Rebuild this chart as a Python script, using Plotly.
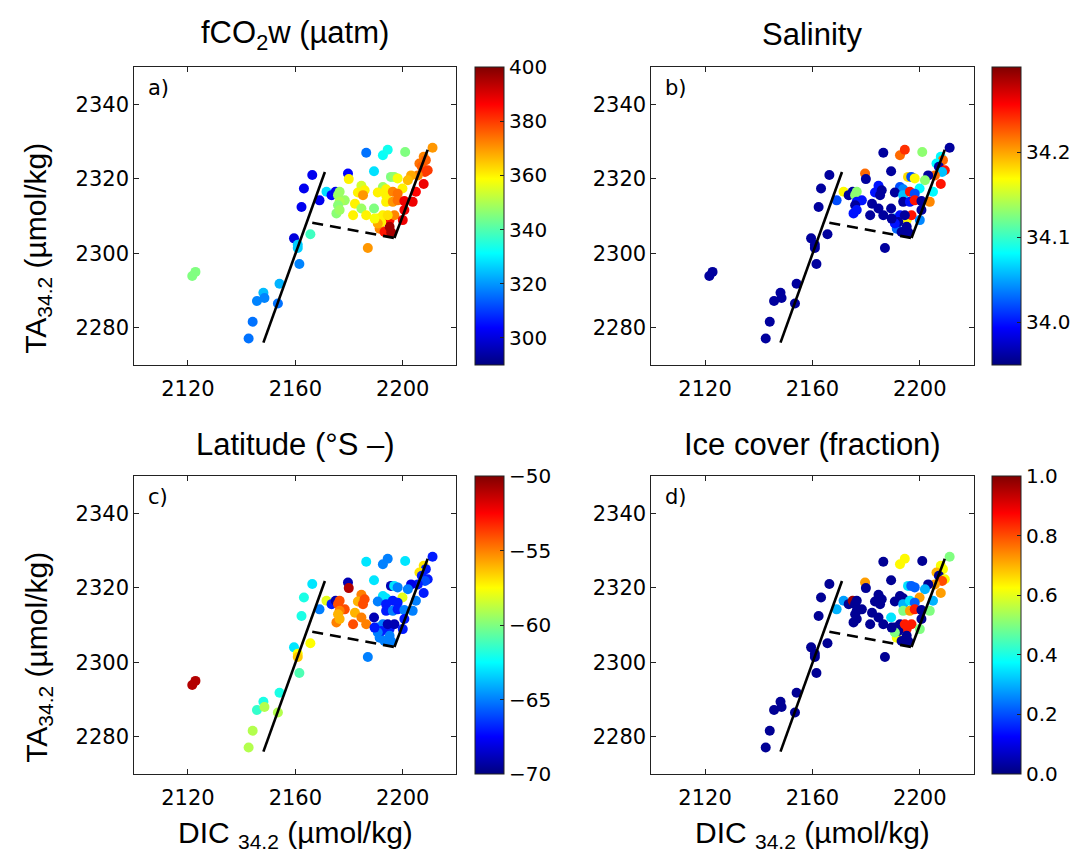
import plotly.graph_objects as go

# ---------------- data ----------------
dic = [2121.6, 2122.8, 2142.6, 2144.1, 2145.7, 2148.1, 2148.5, 2153.5, 2154.1, 2159.5,
       2160.9, 2160.9, 2161.5, 2165.6, 2162.3, 2163.2, 2166.3, 2169.0, 2171.6, 2173.5,
       2175.0,
       2179.6, 2179.9, 2186.4, 2189.3, 2192.6, 2194.4, 2200.9, 2211.1, 2207.8, 2208.6,
       2206.2, 2207.1, 2209.3, 2208.3, 2205.6, 2203.1, 2201.9, 2207.8, 2204.9, 2195.6,
       2196.8, 2198.1, 2199.9, 2192.6, 2193.8, 2184.6, 2183.3, 2185.8, 2185.2, 2190.7,
       2193.8, 2196.3, 2198.1, 2176.5, 2175.9, 2178.4, 2176.5, 2182.2, 2189.3, 2193.8,
       2196.3, 2198.1, 2200.6, 2203.7, 2200.6, 2175.9, 2175.3, 2176.5, 2184.6, 2181.5,
       2186.4, 2190.7, 2192.6, 2195.1, 2196.9, 2200.0,
       2191.4, 2193.2, 2195.1, 2195.7, 2192.0, 2190.7, 2187.0, 2194.4, 2189.5]
ta = [2293.9, 2295.0, 2277.1, 2281.6, 2287.2, 2289.4, 2288.0, 2286.5, 2291.8, 2304.0,
      2302.3, 2301.4, 2297.1, 2305.1, 2312.4, 2317.4, 2321.0, 2314.2, 2316.5, 2315.6,
      2316.5,
      2321.4, 2319.9, 2327.0, 2322.0, 2326.3, 2327.8, 2327.2, 2328.3, 2325.9, 2325.0,
      2324.1, 2323.2, 2322.3, 2321.8, 2320.9, 2320.9, 2319.6, 2318.6, 2316.5, 2320.5,
      2320.5, 2320.1, 2317.4, 2317.8, 2317.2, 2318.1, 2316.3, 2316.9, 2315.6, 2316.3,
      2315.6, 2316.5, 2316.0, 2316.5, 2315.6, 2314.2, 2313.8, 2313.3, 2312.0, 2313.8,
      2313.8, 2314.2, 2314.0, 2313.8, 2311.6, 2312.9, 2310.7, 2311.6, 2312.0, 2310.2,
      2310.2, 2309.3, 2310.2, 2308.9, 2310.2, 2308.9,
      2306.6, 2305.7, 2307.1, 2305.6, 2308.4, 2308.0, 2301.4, 2310.2, 2309.3]
fco2 = [345, 345, 316, 316, 318, 324, 318, 316, 323, 300,
        326, 326, 318, 338, 302, 302, 302, 302, 328, 304,
        302,
        304, 360, 316, 328, 332, 333, 345, 370, 372, 376,
        374, 376, 380, 380, 372, 368, 366, 388, 386, 345,
        347, 358, 360, 348, 360, 354, 360, 360, 370, 360,
        360, 372, 374, 348, 348, 348, 350, 360, 345, 360,
        370, 374, 388, 388, 388, 346, 346, 348, 348, 360,
        360, 360, 360, 385, 372, 388,
        372, 384, 396, 396, 360, 368, 370, 362, 358]
salinity = [33.96, 33.96, 33.96, 33.96, 33.96, 33.96, 33.96, 33.96, 33.96, 33.96,
            33.96, 33.96, 33.96, 33.96, 33.96, 33.96, 33.96, 34.02, 34.17, 33.96,
            33.96,
            34.22, 33.96, 33.96, 33.96, 34.22, 34.24, 34.13, 33.96, 34.08, 34.22,
            34.08, 33.96, 34.25, 34.06, 34.22, 33.96, 34.13, 34.25, 34.08, 34.18,
            34.02, 34.17, 34.08, 34.02, 34.04, 34.00, 34.00, 33.96, 33.96, 33.96,
            34.06, 34.25, 34.02, 34.13, 34.13, 34.00, 34.00, 33.96, 33.96, 33.96,
            34.00, 34.25, 33.96, 34.21, 33.96, 33.96, 34.00, 34.00, 33.96, 33.96,
            33.96, 34.06, 34.00, 34.17, 34.25, 34.04,
            34.03, 33.96, 33.96, 33.96, 33.96, 34.00, 33.96, 33.96, 33.96]
latitude = [-51, -51, -59, -59, -61.5, -62, -59, -59, -62, -63,
            -57.5, -56.5, -61, -57.5, -62, -62, -63, -65, -58, -67,
            -69,
            -69, -51, -63, -63, -65, -65, -63, -67, -57, -67,
            -57, -67, -67, -66, -67, -68, -65, -67, -65, -69,
            -63, -65, -58, -63, -63, -55, -56, -54, -54, -65,
            -67, -67, -67, -54, -54, -54, -55, -56, -69, -67,
            -65, -67, -65, -65, -67, -56, -55, -56, -55, -54,
            -55, -65, -65, -67, -69, -67,
            -65, -65, -65, -65, -67, -65, -65, -69, -67]
ice = [None, None, 0.02, 0.02, 0.02, 0.02, 0.02, 0.02, 0.02, 0.02,
       0.02, 0.02, 0.02, 0.02, 0.02, 0.02, 0.02, 0.30, 0.28, 0.02,
       0.97,
       0.72, 0.02, 0.02, 0.02, 0.63, 0.63, 0.02, 0.50, 0.62, 0.62,
       0.70, 0.02, 0.62, 0.80, 0.72, 0.02, 0.30, 0.72, 0.30, 0.35,
       0.22, 0.22, 0.72, 0.02, 0.02, 0.02, 0.02, 0.02, 0.02, 0.02,
       0.30, 0.35, 0.22, 0.02, 0.02, 0.02, 0.02, 0.02, 0.35, 0.50,
       0.72, 0.85, 0.02, 0.50, 0.02, 0.02, 0.02, 0.02, 0.02, 0.02,
       0.02, 0.02, 0.02, 0.85, 0.85, 0.50,
       0.62, 0.02, 0.02, 0.02, 0.02, 0.50, 0.02, 0.85, 0.02]

# reference lines
line1_dic = [2148.1, 2171.0]
line1_ta = [2276.0, 2321.8]
dash_dic = [2166.3, 2196.9]
dash_ta = [2308.2, 2304.1]
line2_dic = [2196.9, 2209.3]
line2_ta = [2304.1, 2327.8]

titles = ["fCO<sub>2</sub>w (µatm)", "Salinity", "Latitude (°S –)", "Ice cover (fraction)"]
labels = ["a)", "b)", "c)", "d)"]
x_ticks = [2120, 2160, 2200]
y_ticks = [2280, 2300, 2320, 2340]
cranges = [(290, 400), (33.95, 34.30), (-70, -50), (0, 1)]
cticks = [[300, 320, 340, 360, 380, 400], [34.0, 34.1, 34.2],
          [-70, -65, -60, -55, -50], [0, 0.2, 0.4, 0.6, 0.8, 1.0]]
cfmt = ["d", ".1f", "d", ".1f"]

jet = [[0.0, "rgb(0,0,128)"], [0.125, "rgb(0,0,255)"], [0.375, "rgb(0,255,255)"],
       [0.625, "rgb(255,255,0)"], [0.875, "rgb(255,0,0)"], [1.0, "rgb(128,0,0)"]]

# ---------------- layout geometry ----------------
W, H = 1076, 852
col_x = [(135, 459), (655, 979)]
row_y = [(67, 365), (476, 774)]
cb_x = [478, 998]

TICKFONT = "DejaVu Sans"
TITLEFONT = "Liberation Sans"
fig = go.Figure()

values = [fco2, salinity, latitude, ice]
layout = dict(width=W, height=H, margin=dict(l=0, r=0, t=0, b=0),
              paper_bgcolor="white", plot_bgcolor="white", showlegend=False,
              font=dict(family=TICKFONT, size=21, color="black"))
annotations = []
for i in range(4):
    r, c = divmod(i, 2)
    ax = "" if i == 0 else str(i + 1)
    x0, x1 = col_x[c]
    y0, y1 = row_y[r]
    vals = values[i]
    xs = [d for d, v in zip(dic, vals) if v is not None]
    ys = [t for t, v in zip(ta, vals) if v is not None]
    cs = [v for v in vals if v is not None]
    cax = "coloraxis" + ax
    fig.add_trace(go.Scatter(x=xs, y=ys, mode="markers", xaxis="x" + ax, yaxis="y" + ax,
                             marker=dict(size=10, color=cs, coloraxis=cax, line=dict(width=0)),
                             hoverinfo="skip"))
    for lx, ly, dash in [(line1_dic, line1_ta, "solid"), (dash_dic, dash_ta, "11px,7px"),
                         (line2_dic, line2_ta, "solid")]:
        fig.add_trace(go.Scatter(x=lx, y=ly, mode="lines", xaxis="x" + ax, yaxis="y" + ax,
                                 line=dict(color="black", width=2.6, dash=dash),
                                 hoverinfo="skip"))
    axcommon = dict(showgrid=False, zeroline=False, showline=True, linecolor="#222",
                    linewidth=1, mirror="ticks", ticks="inside", ticklen=5,
                    tickcolor="#222", tickfont=dict(family=TICKFONT, size=21, color="black"))
    layout["xaxis" + ax] = dict(axcommon, domain=[x0 / W, x1 / W], range=[2100, 2220],
                                tickvals=x_ticks, anchor="y" + ax, ticklabelstandoff=5)
    layout["yaxis" + ax] = dict(axcommon, domain=[1 - y1 / H, 1 - y0 / H], range=[2270, 2350],
                                tickvals=y_ticks, anchor="x" + ax)
    cmin, cmax = cranges[i]
    layout[cax] = dict(colorscale=jet, cmin=cmin, cmax=cmax,
                       colorbar=dict(x=cb_x[c] / W, xanchor="left", xpad=0, ypad=0,
                                     y=1 - (y0 + y1) / 2 / H, yanchor="middle",
                                     len=(y1 - y0) / H, lenmode="fraction",
                                     thickness=29, thicknessmode="pixels",
                                     outlinewidth=1, outlinecolor="#222",
                                     tickvals=cticks[i], tickformat=cfmt[i],
                                     ticks="inside", ticklen=4, tickcolor="#222",
                                     tickfont=dict(family=TICKFONT, size=20, color="black")))
    annotations.append(dict(text=titles[i], x=(x0 + x1) / 2 / W, y=1 - (y0 - 32) / H,
                            xref="paper", yref="paper", xanchor="center", yanchor="middle",
                            showarrow=False, font=dict(family=TITLEFONT, size=31, color="black")))
    annotations.append(dict(text=labels[i], x=0.035, y=0.975, xref="x" + ax + " domain",
                            yref="y" + ax + " domain", xanchor="left", yanchor="top",
                            showarrow=False, font=dict(family=TICKFONT, size=21, color="black")))
    if c == 0:
        annotations.append(dict(text="TA<sub>34.2</sub> (µmol/kg)", x=38 / W,
                                y=1 - ((y0 + y1) / 2 + 32) / H, xref="paper", yref="paper",
                                xanchor="center", yanchor="middle", textangle=-90,
                                showarrow=False, font=dict(family=TITLEFONT, size=30, color="black")))
    if r == 1:
        annotations.append(dict(text="DIC <sub>34.2</sub> (µmol/kg)", x=(x0 + x1) / 2 / W,
                                y=1 - 834 / H, xref="paper", yref="paper",
                                xanchor="center", yanchor="middle",
                                showarrow=False, font=dict(family=TITLEFONT, size=30, color="black")))
layout["annotations"] = annotations
fig.update_layout(**layout)
fig.write_html("out.html")
